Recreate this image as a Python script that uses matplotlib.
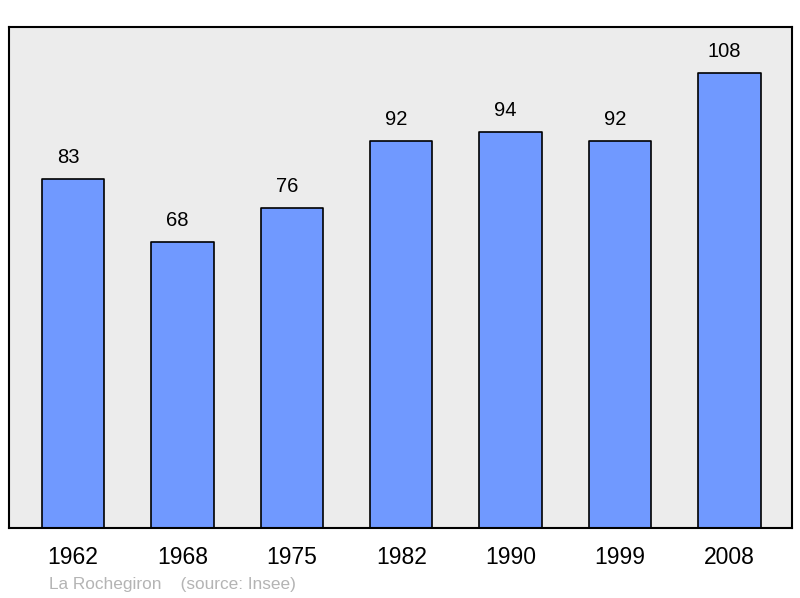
import matplotlib.pyplot as plt

plt.rcParams['font.family'] = ['Liberation Sans', 'DejaVu Sans']

years = ['1962', '1968', '1975', '1982', '1990', '1999', '2008']
population = [83, 68, 76, 92, 94, 92, 108]
commune = 'La Rochegiron'

fig = plt.figure(figsize=(8, 5.98), dpi=100)
ax = fig.add_axes([9 / 800, 1 - 528 / 598, 783 / 800, 501 / 598])
ax.set_facecolor('#ececec')

xs = range(len(years))
bars = ax.bar(xs, population, width=0.57, color='#7099ff', edgecolor='black',
              linewidth=1.2, zorder=2)
for b in bars:
    b.set_joinstyle('round')
for x, v in zip(xs, population):
    # labels sit a little left of the bar centre, like the original
    ax.annotate(str(v), (x, v), xytext=(-5, 12), textcoords='offset pixels',
                ha='center', va='bottom', fontsize=14.5)

ax.set_xlim(-0.584, 6.571)
ax.set_ylim(0, 119)
ax.set_yticks([])
ax.set_xticks(list(xs))
ax.set_xticklabels(years, fontsize=16.5)
ax.tick_params(axis='x', length=0, pad=13)
for s in ax.spines.values():
    s.set_linewidth(1.5)
    s.set_color('black')

fig.text(49 / 800, 1 - 584 / 598, commune + '    (source: Insee)', color='#b4b4b4',
         fontsize=12.4, va='center', ha='left')

fig.savefig('out.png', dpi=100)
